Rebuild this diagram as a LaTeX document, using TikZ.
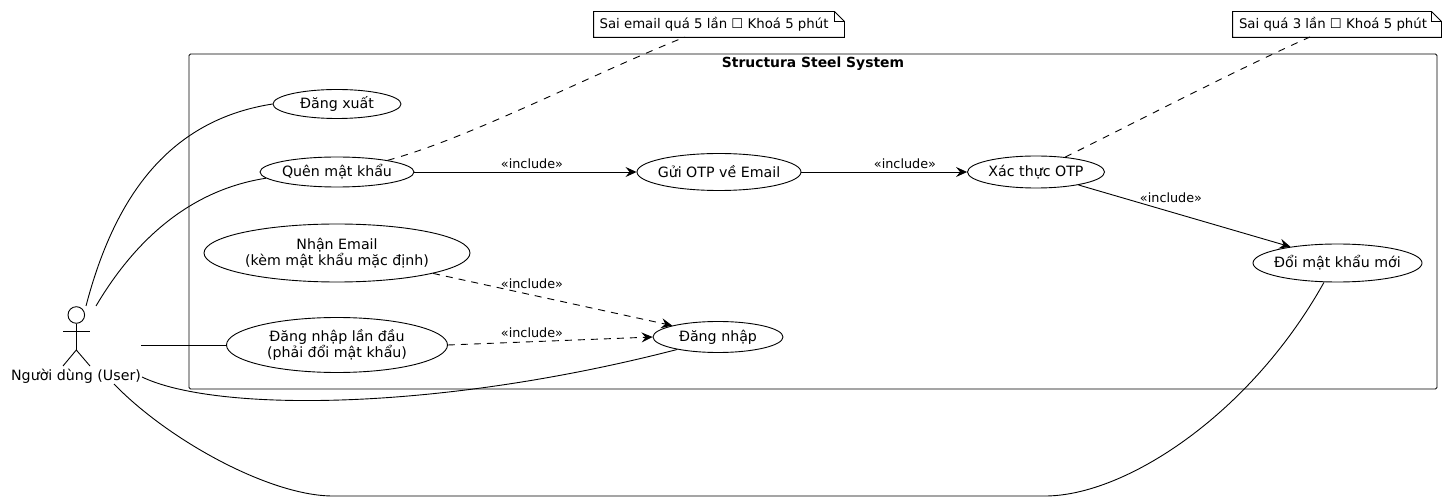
\documentclass[tikz,border=0pt]{standalone}
\usepackage{fontspec}
\setmainfont{DejaVu Sans}
\usetikzlibrary{shapes.geometric, arrows.meta}

\tikzset{
    usecase/.style={draw, ellipse, inner xsep=-25pt, inner ysep=-15pt, align=center, font=\fontsize{14.2}{16.5}\selectfont},
    lbl/.style={font=\fontsize{12.8}{15}\selectfont},
    notetext/.style={font=\fontsize{13.3}{15}\selectfont, inner sep=0pt},
    incl/.style={-{Stealth[length=11pt, width=10pt, inset=4pt]}},
    incldash/.style={incl, dash pattern=on 7pt off 6pt},
    notelink/.style={dash pattern=on 7pt off 7pt}
}

\begin{document}
\begin{tikzpicture}[x=1pt, y=-1pt, line width=0.9pt]
    \useasboundingbox (0,0) rectangle (1448,502);

    % System boundary
    \draw[rounded corners=1.5pt] (189,54) rectangle (1437,389);
    \node (title) at (813,64) [font=\fontsize{13.9}{16}\selectfont\bfseries] {Structura Steel System};

    % Actor
    \node (head) at (76.3,315) [draw, circle, minimum size=16.6pt, inner sep=0pt] {};
    \coordinate (hip) at (76.3,350);
    \draw (head.south) -- (hip);
    \draw (63,331) -- (90,331);
    \draw (63,366) -- (hip) -- (90,366);
    \node (user) at (76,376) [font=\fontsize{14.2}{16}\selectfont, inner sep=0pt] {Người dùng (User)};

    % Use cases
    \node (logout) at (337,104) [usecase, minimum width=128pt, minimum height=29pt] {Đăng xuất};
    \node (forgot) at (337,172) [usecase, minimum width=154pt, minimum height=30pt] {Quên mật khẩu};
    \node (sendotp) at (719,172) [usecase, minimum width=164pt, minimum height=37pt] {Gửi OTP về Email};
    \node (verify) at (1036,172) [usecase, minimum width=137pt, minimum height=32pt] {Xác thực OTP};
    \node (newpass) at (1337.5,263) [usecase, minimum width=169pt, minimum height=38pt] {Đổi mật khẩu mới};
    \node (mail) at (337,253) [usecase, minimum width=266pt, minimum height=58pt] {Nhận Email\\(kèm mật khẩu mặc định)};
    \node (first) at (337,345) [usecase, minimum width=221pt, minimum height=55pt] {Đăng nhập lần đầu\\(phải đổi mật khẩu)};
    \node (login) at (718,337) [usecase, minimum width=130pt, minimum height=31pt] {Đăng nhập};

    % Notes
    \node (noteA) at (719,24.5) [notetext, minimum width=250pt, minimum height=25pt] {Sai email quá 5 lần ☐ Khoá 5 phút\kern10pt};
    \draw (noteA.south west) -- (noteA.south east) -- ([yshift=-10pt]noteA.north east) -- ([xshift=-10pt]noteA.north east) -- (noteA.north west) -- cycle;
    \draw ([xshift=-10pt]noteA.north east) -- ([xshift=-10pt,yshift=-10pt]noteA.north east) -- ([yshift=-10pt]noteA.north east);
    \node (noteB) at (1337,24.5) [notetext, minimum width=208pt, minimum height=25pt] {Sai quá 3 lần ☐ Khoá 5 phút\kern8pt};
    \draw (noteB.south west) -- (noteB.south east) -- ([yshift=-10pt]noteB.north east) -- ([xshift=-10pt]noteB.north east) -- (noteB.north west) -- cycle;
    \draw ([xshift=-10pt]noteB.north east) -- ([xshift=-10pt,yshift=-10pt]noteB.north east) -- ([yshift=-10pt]noteB.north east);

    % Free ends at the actor
    \coordinate (userA) at (86,306);
    \coordinate (userB) at (96,306);
    \coordinate (userC) at (141,345);
    \coordinate (userD) at (142,377);
    \coordinate (userE) at (114,384);

    % Actor links
    \draw (userA) .. controls (115,195) and (170,120) .. (logout.west);
    \draw (userB) .. controls (135,240) and (190,190) .. (forgot.185);
    \draw (userC) -- (first.west);
    \draw (userD) .. controls (215,412) and (435,412) .. (login.197);
    \draw (userE) .. controls (168,440) and (270,496) .. (333,496) -- (1045,496) .. controls (1125,496) and (1250,415) .. (newpass.235);

    % Include links
    \draw[incl] (forgot.east) -- (sendotp.west);
    \draw[incl] (sendotp.east) -- (verify.west);
    \draw[incl] (verify.343) -- (newpass.161);
    \draw[incldash] (mail.348) -- (login.166);
    \draw[incldash] (first.east) -- (login.west);
    \node (inclA) at (532,164) [lbl] {«include»};
    \node (inclB) at (905,164) [lbl] {«include»};
    \node (inclC) at (1171,198) [lbl] {«include»};
    \node (inclD) at (532,284) [lbl] {«include»};
    \node (inclE) at (532,333) [lbl] {«include»};

    % Note links
    \coordinate (noteAend) at (685,37);
    \coordinate (noteBend) at (1310,37);
    \draw[notelink] (forgot.13) .. controls (470,138) and (590,75) .. (noteAend);
    \draw[notelink] (verify.27) .. controls (1130,125) and (1240,68) .. (noteBend);
\end{tikzpicture}
\end{document}
